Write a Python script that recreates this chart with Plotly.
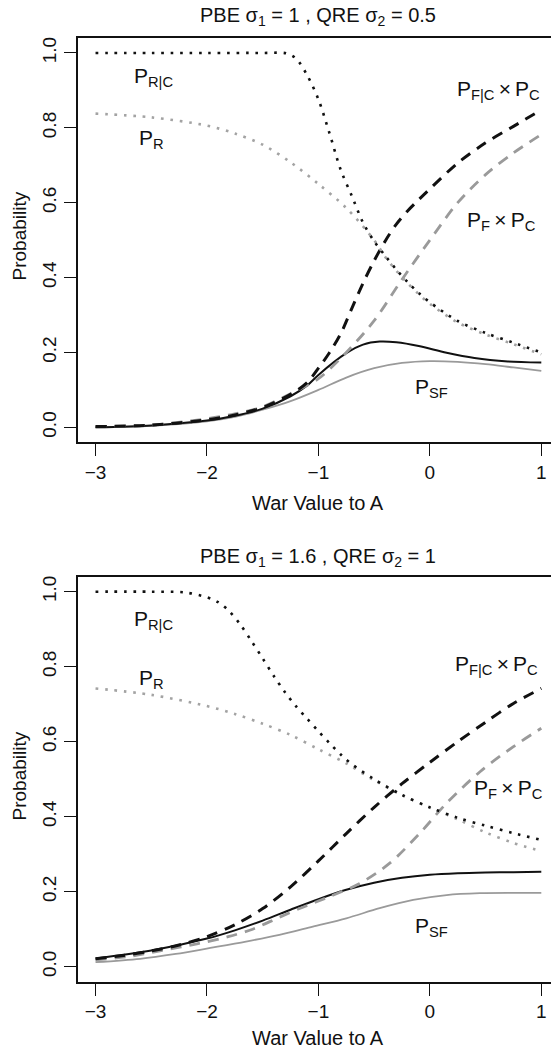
import plotly.graph_objects as go

# ---------------- data ----------------
# Top panel: PBE sigma1 = 1, QRE sigma2 = 0.5
t_rc_x = [-3, -2.5, -2.0, -1.5, -1.29, -1.2, -1.1, -1.0, -0.9, -0.8, -0.7, -0.6, -0.5, -0.4, -0.3, -0.2,
          -0.1, 0.0, 0.25, 0.5, 0.75, 1.0]
t_rc_y = [1.0, 1.0, 1.0, 1.0, 0.999, 0.985, 0.94, 0.876, 0.785, 0.688, 0.618, 0.547, 0.497, 0.458, 0.421,
          0.388, 0.359, 0.334, 0.284, 0.252, 0.226, 0.2]

t_r_x = [-3, -2.5, -2.0, -1.75, -1.5, -1.25, -1.0, -0.75, -0.5, -0.4, -0.3, -0.2, -0.1, 0.0, 0.25, 0.5,
         0.75, 1.0]
t_r_y = [0.838, 0.828, 0.806, 0.785, 0.755, 0.708, 0.65, 0.586, 0.5, 0.455, 0.418, 0.385, 0.356, 0.33,
         0.28, 0.248, 0.222, 0.195]

t_fc_x = [-3, -2.5, -2.0, -1.75, -1.5, -1.25, -1.1, -1.0, -0.9, -0.8, -0.7, -0.6, -0.5, -0.4, -0.3, -0.2,
          -0.1, 0.0, 0.25, 0.5, 0.75, 1.0]
t_fc_y = [0.002, 0.006, 0.02, 0.033, 0.053, 0.088, 0.12, 0.158, 0.2, 0.25, 0.318, 0.385, 0.445, 0.498,
          0.543, 0.578, 0.608, 0.637, 0.706, 0.76, 0.804, 0.848]

t_f_x = [-3, -2.5, -2.0, -1.75, -1.5, -1.25, -1.0, -0.75, -0.5, -0.25, 0.0, 0.25, 0.5, 0.75, 1.0]
t_f_y = [0.002, 0.006, 0.023, 0.036, 0.055, 0.09, 0.13, 0.2, 0.285, 0.395, 0.5, 0.6, 0.675, 0.733, 0.782]

t_sf_x = [-3, -2.5, -2.0, -1.75, -1.5, -1.25, -1.1, -1.0, -0.75, -0.6, -0.45, -0.3, -0.1, 0.15, 0.4, 0.7, 1.0]
t_sf_y = [0.0, 0.005, 0.018, 0.031, 0.05, 0.083, 0.112, 0.14, 0.198, 0.221, 0.229, 0.227, 0.217, 0.199,
          0.185, 0.176, 0.173]

t_sfg_x = [-3, -2.5, -2.0, -1.75, -1.5, -1.25, -1.0, -0.75, -0.5, -0.25, 0.0, 0.25, 0.5, 0.75, 1.0]
t_sfg_y = [0.0, 0.004, 0.016, 0.028, 0.047, 0.07, 0.1, 0.133, 0.158, 0.172, 0.177, 0.175, 0.169, 0.16, 0.151]

# Bottom panel: PBE sigma1 = 1.6, QRE sigma2 = 1
b_rc_x = [-3, -2.5, -2.2, -2.0, -1.9, -1.8, -1.7, -1.6, -1.5, -1.4, -1.3, -1.2, -1.1, -1.0, -0.9, -0.8,
          -0.7, -0.5, -0.25, 0.0, 0.25, 0.5, 0.75, 1.0]
b_rc_y = [1.0, 1.0, 0.998, 0.985, 0.972, 0.948, 0.912, 0.868, 0.822, 0.775, 0.732, 0.694, 0.661, 0.628,
          0.596, 0.566, 0.54, 0.5, 0.458, 0.425, 0.397, 0.376, 0.356, 0.338]

b_r_x = [-3, -2.5, -2.0, -1.75, -1.5, -1.25, -1.0, -0.75, -0.5, -0.25, 0.0, 0.25, 0.5, 0.75, 1.0]
b_r_y = [0.742, 0.725, 0.695, 0.674, 0.648, 0.618, 0.58, 0.542, 0.497, 0.458, 0.424, 0.393, 0.358, 0.33, 0.308]

b_fc_x = [-3, -2.75, -2.5, -2.25, -2.0, -1.75, -1.5, -1.25, -1.0, -0.75, -0.5, -0.25, 0.0, 0.25, 0.5,
          0.75, 1.0]
b_fc_y = [0.021, 0.03, 0.042, 0.058, 0.08, 0.112, 0.155, 0.213, 0.282, 0.355, 0.425, 0.488, 0.545, 0.6,
          0.652, 0.702, 0.742]

b_f_x = [-3, -2.66, -2.41, -2.09, -1.81, -1.59, -1.35, -1.17, -0.9, -0.63, -0.36, -0.09, 0.15, 0.45, 0.75, 1.0]
b_f_y = [0.018, 0.029, 0.043, 0.061, 0.08, 0.1, 0.132, 0.155, 0.187, 0.222, 0.276, 0.356, 0.436, 0.52,
         0.587, 0.636]

b_sf_x = [-3, -2.5, -2.0, -1.75, -1.5, -1.25, -1.0, -0.75, -0.5, -0.25, 0.0, 0.25, 0.5, 0.75, 1.0]
b_sf_y = [0.022, 0.043, 0.075, 0.097, 0.123, 0.152, 0.18, 0.205, 0.224, 0.237, 0.245, 0.249, 0.251, 0.252, 0.253]

b_sfg_x = [-3, -2.6, -2.28, -1.97, -1.65, -1.35, -1.05, -0.75, -0.45, -0.15, 0.15, 0.45, 0.75, 1.0]
b_sfg_y = [0.012, 0.021, 0.034, 0.05, 0.067, 0.085, 0.107, 0.129, 0.156, 0.178, 0.191, 0.196, 0.197, 0.197]

x_ticks = [-3, -2, -1, 0, 1]
x_tick_text = ["\u22123", "\u22122", "\u22121", "0", "1"]
y_ticks = [0.0, 0.2, 0.4, 0.6, 0.8, 1.0]
y_tick_text = ["0.0", "0.2", "0.4", "0.6", "0.8", "1.0"]

titles = ["PBE \u03c3<sub>1</sub> = 1 , QRE \u03c3<sub>2</sub> = 0.5",
          "PBE \u03c3<sub>1</sub> = 1.6 , QRE \u03c3<sub>2</sub> = 1"]
x_title = "War Value to A"
y_title = "Probability"

label_text = ["P<sub>R|C</sub>", "P<sub>R</sub>",
              "P<sub>F|C</sub>\u2009\u00d7\u2009P<sub>C</sub>",
              "P<sub>F</sub>\u2009\u00d7\u2009P<sub>C</sub>", "P<sub>SF</sub>"]
top_label_x = [-2.48, -2.5, 0.614, 0.645, 0.016]
top_label_y = [0.937, 0.769, 0.902, 0.552, 0.106]
bot_label_x = [-2.48, -2.5, 0.6, 0.704, 0.016]
bot_label_y = [0.925, 0.767, 0.804, 0.475, 0.107]

# ---------------- figure ----------------
FONT = "Liberation Sans, Arial, Helvetica, sans-serif"
BLACK = "#111111"
GREY = "#9a9a9a"

styles = [
    dict(color=BLACK, width=2.6, dash="2.6px,6.8px"),      # P_R|C
    dict(color="#a3a3a3", width=2.6, dash="2.6px,6.8px"),  # P_R
    dict(color=BLACK, width=3.0, dash="11px,8px"),         # P_F|C x P_C
    dict(color=GREY, width=2.8, dash="11px,8px"),          # P_F x P_C
    dict(color=BLACK, width=2.0),                          # solid black
    dict(color=GREY, width=1.8),                           # solid grey
]

fig = go.Figure()

panels = [
    ("x", "y", [(t_rc_x, t_rc_y), (t_r_x, t_r_y), (t_fc_x, t_fc_y), (t_f_x, t_f_y),
                (t_sf_x, t_sf_y), (t_sfg_x, t_sfg_y)]),
    ("x2", "y2", [(b_rc_x, b_rc_y), (b_r_x, b_r_y), (b_fc_x, b_fc_y), (b_f_x, b_f_y),
                  (b_sf_x, b_sf_y), (b_sfg_x, b_sfg_y)]),
]

order = [5, 4, 3, 2, 1, 0]
for xa, ya, series in panels:
    for i in order:
        xs, ys = series[i]
        fig.add_trace(go.Scatter(x=xs, y=ys, mode="lines", xaxis=xa, yaxis=ya,
                                 line=dict(shape="spline", smoothing=0.9, **styles[i]),
                                 showlegend=False, hoverinfo="skip"))

W, H = 551, 1052
x_dom = [77.7 / W, 1.0]
top_dom = [(H - 442.3) / H, (H - 38.0) / H]
bot_dom = [(H - 981.7) / H, (H - 576.7) / H]
x_range = [-3.16, 1.087]
y_range = [-0.04, 1.04]

axis_common = dict(showgrid=False, zeroline=False, showline=True, linecolor=BLACK, linewidth=1.6,
                   ticks="outside", ticklen=12, tickwidth=1.4, tickcolor=BLACK,
                   tickfont=dict(family=FONT, size=19, color=BLACK))

fig.update_layout(
    width=W, height=H, margin=dict(l=0, r=0, t=0, b=0),
    paper_bgcolor="white", plot_bgcolor="white",
    xaxis=dict(domain=x_dom, range=x_range, anchor="y", mirror=True,
               tickvals=x_ticks, ticktext=x_tick_text, **axis_common),
    yaxis=dict(domain=top_dom, range=y_range, anchor="x", tickangle=-90, ticklabelstandoff=0,
               tickvals=y_ticks, ticktext=y_tick_text, **axis_common),
    xaxis2=dict(domain=x_dom, range=x_range, anchor="y2", mirror=True,
                tickvals=x_ticks, ticktext=x_tick_text, **axis_common),
    yaxis2=dict(domain=bot_dom, range=y_range, anchor="x2", tickangle=-90, ticklabelstandoff=0,
                tickvals=y_ticks, ticktext=y_tick_text, **axis_common),
)

ann = []
cx = 318.4 / W
# panel titles
for txt, ypix in zip(titles, [16, 557]):
    ann.append(dict(text=txt, x=cx, y=(H - ypix) / H, xref="paper", yref="paper",
                    xanchor="center", yanchor="middle", showarrow=False,
                    font=dict(family=FONT, size=20, color=BLACK)))
# x titles
for ypix in [503, 1038]:
    ann.append(dict(text=x_title, x=cx, y=(H - ypix) / H, xref="paper", yref="paper",
                    xanchor="center", yanchor="middle", showarrow=False,
                    font=dict(family=FONT, size=20, color=BLACK)))
# y titles
for ypix in [236, 776]:
    ann.append(dict(text=y_title, x=18.5 / W, y=(H - ypix) / H, xref="paper", yref="paper",
                    xanchor="center", yanchor="middle", showarrow=False, textangle=-90,
                    font=dict(family=FONT, size=19, color=BLACK)))
# curve labels
for xa, ya, lx, ly in [("x", "y", top_label_x, top_label_y), ("x2", "y2", bot_label_x, bot_label_y)]:
    for t, xv, yv in zip(label_text, lx, ly):
        ann.append(dict(text=t, x=xv, y=yv, xref=xa, yref=ya, xanchor="center", yanchor="middle",
                        showarrow=False, font=dict(family=FONT, size=21, color=BLACK)))
fig.update_layout(annotations=ann)

fig.write_html("out.html")
